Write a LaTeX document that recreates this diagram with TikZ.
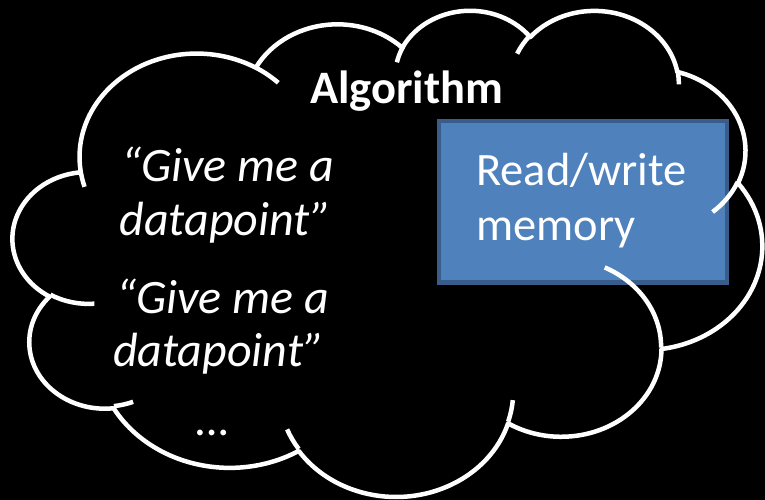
\documentclass[tikz,border=0pt]{standalone}
\usepackage{fontspec}
\setmainfont{Carlito}
\definecolor{memfill}{HTML}{4F81BD}
\definecolor{memborder}{HTML}{385D8A}
% parametric start/end angles of an OOXML arcTo (visual angles st, sw)
\newcommand\cloudang[6]{%
  \pgfmathsetmacro#1{atan2((#3)*sin(#5),(#4)*cos(#5))}%
  \pgfmathsetmacro#2{atan2((#3)*sin((#5)+(#6)),(#4)*cos((#5)+(#6)))}%
  \pgfmathsetmacro#2{(#1)+mod((#2)-(#1)+720,360)}}
\newcommand\txtsize{\fontsize{46.5}{55}\selectfont}
\newcommand\itsize{\fontsize{48}{55}\selectfont}
\tikzset{
  cloudline/.style={draw=white, line width=4.5pt, line join=round, line cap=butt},
  membox/.style={draw=memborder, fill=memfill, line width=4.5pt, inner sep=0pt,
    minimum width=288pt, minimum height=161.7pt},
  txt/.style={text=white, inner sep=0pt, font=\txtsize},
  txtb/.style={txt, font=\txtsize\bfseries},
  txti/.style={txt, font=\itsize\itshape},
}
\begin{document}
\begin{tikzpicture}[x=1pt, y=-1pt]
\useasboundingbox (0,0) rectangle (765,500);
\fill[black] (0,0) rectangle (765,500);
% memory box (under the cloud outline)
\node[membox] (mem) at (583,201.65) {};
\begin{scope}[shift={(13,9.2)}, x=1.7338pt, y=-1.125pt]
  % main outline arcs
  \cloudang\qsA\qeA{67.53}{91.90}{-190.48748}{123.78053}
  \cloudang\qsB\qeB{53.33}{72.67}{-144.10238}{89.94523}
  \cloudang\qsC\qeC{43.65}{59.45}{-145.80792}{99.72302}
  \cloudang\qsD\qeD{48.57}{65.95}{-130.98607}{117.24173}
  \cloudang\qsE\qeE{53.33}{72.73}{-78.70888}{109.02692}
  \cloudang\qsF\qeF{67.75}{92.20}{-46.26725}{130.26900}
  \cloudang\qsG\qeG{57.85}{78.67}{0.62502}{114.03333}
  \cloudang\qsH\qeH{67.52}{92.15}{22.45160}{115.17255}
  \cloudang\qsI\qeI{77.20}{105.43}{66.24263}{75.71102}
  \cloudang\qsJ\qeJ{43.60}{59.18}{-274.94208}{146.73557}
  \cloudang\qsK\qeK{43.45}{59.45}{-246.82850}{152.51885}
  % inner arcs
  \cloudang\qsL\qeL{43.45}{59.45}{86.74200}{26.42950}
  \cloudang\qsM\qeM{43.60}{59.18}{73.61047}{11.44747}
  \cloudang\qsN\qeN{67.52}{92.15}{137.62415}{14.08110}
  \cloudang\qsO\qeO{67.52}{92.15}{6.45327}{15.99835}
  \cloudang\qsP\qeP{57.85}{78.67}{-70.29235}{70.91737}
  \cloudang\qsQ\qeQ{53.33}{72.73}{30.31803}{27.75150}
  \cloudang\qsR\qeR{48.57}{65.95}{-13.74433}{14.85890}
  \cloudang\qsS\qeS{48.57}{65.95}{-149.18145}{18.19537}
  \cloudang\qsT\qeT{43.65}{59.45}{-163.49427}{17.68635}
  \cloudang\qsU\qeU{67.53}{91.90}{-66.70695}{12.31935}
  \cloudang\qsV\qeV{67.53}{91.90}{157.65435}{11.85817}
  \draw[cloudline] (39.00,143.70)
    arc[start angle=\qsA, end angle=\qeA, x radius=67.53, y radius=91.90]
    arc[start angle=\qsB, end angle=\qeB, x radius=53.33, y radius=72.67]
    arc[start angle=\qsC, end angle=\qeC, x radius=43.65, y radius=59.45]
    arc[start angle=\qsD, end angle=\qeD, x radius=48.57, y radius=65.95]
    arc[start angle=\qsE, end angle=\qeE, x radius=53.33, y radius=72.73]
    arc[start angle=\qsF, end angle=\qeF, x radius=67.75, y radius=92.20]
    arc[start angle=\qsG, end angle=\qeG, x radius=57.85, y radius=78.67]
    arc[start angle=\qsH, end angle=\qeH, x radius=67.52, y radius=92.15]
    arc[start angle=\qsI, end angle=\qeI, x radius=77.20, y radius=105.43]
    arc[start angle=\qsJ, end angle=\qeJ, x radius=43.60, y radius=59.18]
    arc[start angle=\qsK, end angle=\qeK, x radius=43.45, y radius=59.45]
    -- cycle;
  \draw[cloudline]
    (46.93,261.77) arc[start angle=\qsL, end angle=\qeL, x radius=43.45, y radius=59.45]
    (69.28,348.99) arc[start angle=\qsM, end angle=\qeM, x radius=43.60, y radius=59.18]
    (164.78,390.90) arc[start angle=\qsN, end angle=\qeN, x radius=67.52, y radius=92.15]
    (288.27,347.51) arc[start angle=\qsO, end angle=\qeO, x radius=67.52, y radius=92.15]
    (341.29,229.54) arc[start angle=\qsP, end angle=\qeP, x radius=57.85, y radius=78.67]
    (417.98,153.54) arc[start angle=\qsQ, end angle=\qeQ, x radius=53.33, y radius=72.73]
    (383.24,54.26) arc[start angle=\qsR, end angle=\qeR, x radius=48.57, y radius=65.95]
    (290.78,39.52) arc[start angle=\qsS, end angle=\qeS, x radius=48.57, y radius=65.95]
    (221.41,47.20) arc[start angle=\qsT, end angle=\qeT, x radius=43.65, y radius=59.45]
    (140.00,51.92) arc[start angle=\qsU, end angle=\qeU, x radius=67.53, y radius=91.90]
    (41.27,157.89) arc[start angle=\qsV, end angle=\qeV, x radius=67.53, y radius=91.90];
\end{scope}
% texts
\node[txtb, anchor=base] (alg) at (406.7,103.3) {Algorithm};
\node[txti, anchor=base] (q1a) at (228,181.7) {“Give me a};
\node[txti, anchor=base] (q1b) at (225.5,235) {datapoint”};
\node[txti, anchor=base] (q2a) at (223,313.3) {“Give me a};
\node[txti, anchor=base] (q2b) at (219,366.7) {datapoint”};
\node[txti, anchor=base] (dots) at (213.5,435) {…};
\node[txt, anchor=base west] (rw) at (476,185) {Read/write};
\node[txt, anchor=base west] (mm) at (476,240) {memory};
\end{tikzpicture}
\end{document}
